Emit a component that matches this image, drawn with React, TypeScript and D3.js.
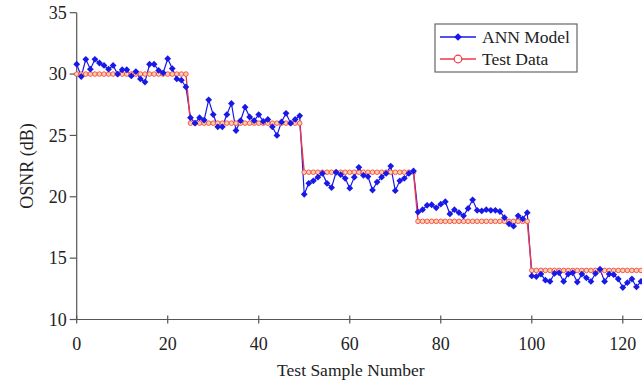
import React from "react";
import * as d3 from "d3";

const W = 642;
const H = 387;

const xTicks = [0, 20, 40, 60, 80, 100, 120];
const yTicks = [10, 15, 20, 25, 30, 35];
const seriesNames = ["ANN Model", "Test Data"];
const xTitle = "Test Sample Number";
const yTitle = "OSNR (dB)";

const annModel = [
  30.8, 29.8, 31.2, 30.4, 31.2, 30.9, 30.7, 30.4, 30.7, 30.0, 30.35, 30.35, 29.85, 30.2, 29.6, 29.35, 30.8, 30.8, 30.3, 30.1, 31.25, 30.45, 29.6, 29.5, 28.95,
  26.45, 26.0, 26.45, 26.25, 27.9, 26.7, 25.7, 25.7, 26.7, 27.6, 25.4, 26.2, 27.3, 26.5, 26.2, 26.7, 26.15, 26.3, 25.7, 25.0, 26.1, 26.8, 26.0, 26.3, 26.6,
  20.2, 21.1, 21.3, 21.6, 21.9, 21.1, 20.75, 22.0, 21.8, 21.5, 20.7, 21.6, 22.4, 21.75, 21.65, 20.55, 21.2, 21.6, 21.9, 22.5, 20.5, 21.3, 21.5, 21.9, 22.1,
  18.75, 18.95, 19.3, 19.35, 19.1, 19.4, 19.6, 18.6, 18.95, 18.7, 18.45, 19.05, 19.75, 18.9, 18.85, 18.95, 18.9, 18.9, 18.8, 18.3, 17.8, 17.6, 18.45, 18.2, 18.7,
  13.55, 13.5, 13.7, 13.2, 13.1, 13.75, 13.8, 13.1, 13.7, 13.8, 13.05, 13.7, 13.4, 13.1, 13.75, 14.1, 13.1, 13.7, 13.65, 13.3, 12.6, 13.0, 13.3, 12.65, 13.1,
];

const testData = [
  30, 30, 30, 30, 30, 30, 30, 30, 30, 30, 30, 30, 30, 30, 30, 30, 30, 30, 30, 30, 30, 30, 30, 30, 30,
  26, 26, 26, 26, 26, 26, 26, 26, 26, 26, 26, 26, 26, 26, 26, 26, 26, 26, 26, 26, 26, 26, 26, 26, 26,
  22, 22, 22, 22, 22, 22, 22, 22, 22, 22, 22, 22, 22, 22, 22, 22, 22, 22, 22, 22, 22, 22, 22, 22, 22,
  18, 18, 18, 18, 18, 18, 18, 18, 18, 18, 18, 18, 18, 18, 18, 18, 18, 18, 18, 18, 18, 18, 18, 18, 18,
  14, 14, 14, 14, 14, 14, 14, 14, 14, 14, 14, 14, 14, 14, 14, 14, 14, 14, 14, 14, 14, 14, 14, 14, 14,
];

const FONT = "'Liberation Serif', 'Times New Roman', serif";
const BLUE = "#1818e8";
const RED = "#ec3848";
const TEXT = "#222";

export default function App() {
  const x = d3.scaleLinear().domain([0, 124]).range([76.7, 641]);
  const y = d3.scaleLinear().domain([10, 35]).range([319.5, 12.7]);
  const x0 = x(0);
  const y0 = y(10);

  const line = d3
    .line<number>()
    .x((_, i) => x(i))
    .y((d) => y(d));

  const diamond = d3.symbol().type(d3.symbolSquare).size(23)() as string;
  const diamondLeg = d3.symbol().type(d3.symbolSquare).size(30)() as string;

  return (
    <svg
      width={W}
      height={H}
      style={{ position: "absolute", left: 0, top: 0, background: "#fff" }}
      fontFamily={FONT}
    >
      <rect x={0} y={0} width={W} height={H} fill="#fff" />
      {/* axes */}
      <line x1={x0} y1={y(35)} x2={x0} y2={y0} stroke="#555" strokeWidth={1.2} />
      <line x1={x0} y1={y0} x2={W} y2={y0} stroke="#555" strokeWidth={1.2} />
      {yTicks.map((t) => (
        <g key={"y" + t}>
          <line x1={x0 - 7} x2={x0} y1={y(t)} y2={y(t)} stroke="#555" strokeWidth={1.2} />
          <text x={x0 - 10} y={y(t)} dy="0.35em" textAnchor="end" fontSize={18} fill={TEXT}>
            {t}
          </text>
        </g>
      ))}
      {xTicks.map((t) => (
        <g key={"x" + t}>
          <line x1={x(t)} x2={x(t)} y1={y0 - 4} y2={y0 + 4} stroke="#555" strokeWidth={1.2} />
          <text x={x(t)} y={y0 + 30} textAnchor="middle" fontSize={18} fill={TEXT}>
            {t}
          </text>
        </g>
      ))}
      <text x={(x0 + 641) / 2 - 8} y={376} textAnchor="middle" fontSize={17.5} fill={TEXT}>
        {xTitle}
      </text>
      <text
        transform={`translate(33, ${(y(35) + y0) / 2}) rotate(-90)`}
        textAnchor="middle"
        fontSize={18}
        fill={TEXT}
      >
        {yTitle}
      </text>

      {/* ANN model */}
      <path d={line(annModel) as string} fill="none" stroke={BLUE} strokeWidth={1.2} />
      {/* test data */}
      <path d={line(testData) as string} fill="none" stroke={RED} strokeWidth={1.4} />
      {testData.map((v, i) => (
        <circle key={"t" + i} cx={x(i)} cy={y(v)} r={2.3} fill="#ffd2a8" stroke="#f04848" strokeWidth={0.9} />
      ))}
      {annModel.map((v, i) => (
        <path key={"a" + i} d={diamond} transform={`translate(${x(i)},${y(v)}) rotate(45)`} fill={BLUE} />
      ))}

      {/* legend */}
      <rect x={435} y={24} width={142} height={48} fill="#fff" stroke="#666" strokeWidth={1.2} />
      <line x1={440} x2={476} y1={37} y2={37} stroke={BLUE} strokeWidth={1.3} />
      <path d={diamondLeg} transform="translate(458,37) rotate(45)" fill={BLUE} />
      <text x={482} y={37} dy="0.35em" fontSize={17.5} fill={TEXT}>
        {seriesNames[0]}
      </text>
      <line x1={440} x2={476} y1={59} y2={59} stroke={RED} strokeWidth={1.3} />
      <circle cx={458} cy={59} r={3.8} fill="#fff" stroke={RED} strokeWidth={1.2} />
      <text x={482} y={59} dy="0.35em" fontSize={17.5} fill={TEXT}>
        {seriesNames[1]}
      </text>
    </svg>
  );
}
